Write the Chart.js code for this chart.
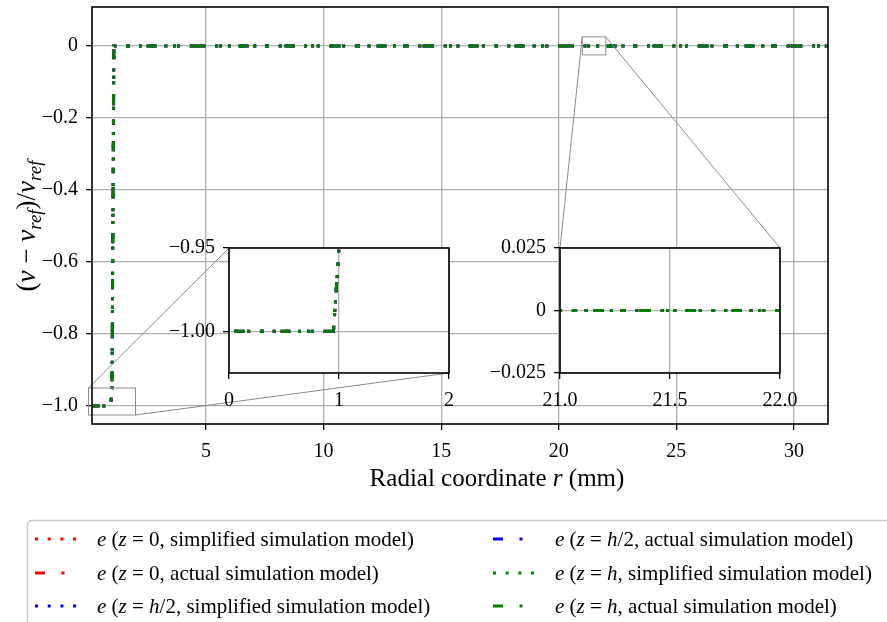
<!DOCTYPE html>
<html>
<head>
<meta charset="utf-8">
<script src="https://cdn.jsdelivr.net/npm/chart.js@4.4.1/dist/chart.umd.min.js"></script>
<style>
  body { margin: 0; background: #fff; }
  #wrap { position: relative; width: 887px; height: 622px; overflow: hidden; }
  #wrap canvas { position: absolute; }
</style>
</head>
<body>
<div id="wrap">
  <canvas id="mainChart" width="887" height="622" style="left:0px;top:0px"></canvas>
  <canvas id="zoomStep" width="330" height="179" style="left:139px;top:234px"></canvas>
  <canvas id="zoomFlat" width="330" height="179" style="left:470px;top:234px"></canvas>
</div>
<script>
// radial coordinate r (mm) and normalised error e for each case
const radius = [0.05, 0.95, 1.0, 1.08, 31.5];
const eZ0Simplified = [-1, -1, -0.95, 0, 0];
const eZ0Actual = [-1, -1, -0.95, 0, 0];
const eHalfSimplified = [-1, -1, -0.95, 0, 0];
const eHalfActual = [-1, -1, -0.95, 0, 0];
const eTopSimplified = [-1, -1, -0.95, 0, 0];
const eTopActual = [-1, -1, -0.95, 0, 0];

const seriesValues = [eZ0Simplified, eZ0Actual, eHalfSimplified, eHalfActual, eTopSimplified, eTopActual];
// *...* marks italic parts
const seriesLabels = [
  '*e* (*z* = 0, simplified simulation model)',
  '*e* (*z* = 0, actual simulation model)',
  '*e* (*z* = *h*/2, simplified simulation model)',
  '*e* (*z* = *h*/2, actual simulation model)',
  '*e* (*z* = *h*, simplified simulation model)',
  '*e* (*z* = *h*, actual simulation model)'
];

// main axes ticks
const xTicks = [5, 10, 15, 20, 25, 30];
const xTickLabels = ['5', '10', '15', '20', '25', '30'];
const yTicks = [-1.0, -0.8, -0.6, -0.4, -0.2, 0];
const yTickLabels = ['\u22121.0', '\u22120.8', '\u22120.6', '\u22120.4', '\u22120.2', '0'];

// zoom near the step
const stepXTicks = [0, 1, 2];
const stepXLabels = ['0', '1', '2'];
const stepYTicks = [-1.0, -0.95];
const stepYLabels = ['\u22121.00', '\u22120.95'];

// zoom on the flat part
const flatXTicks = [21.0, 21.5, 22.0];
const flatXLabels = ['21.0', '21.5', '22.0'];
const flatYTicks = [-0.025, 0, 0.025];
const flatYLabels = ['\u22120.025', '0', '0.025'];

const seriesColors = ['#ff0000', '#ff0000', '#0000ff', '#0000ff', '#008000', '#008000'];
const dotted = [3, 9.7];
const dashDot = [10, 16.5, 3, 16.5];
const seriesDash = [dotted, dashDot, dotted, dashDot, dotted, dashDot];

const FONT = '"Liberation Serif", "Times New Roman", serif';
Chart.defaults.font.family = FONT;
Chart.defaults.color = '#000';

function makeDatasets() {
  return seriesValues.map((vals, i) => ({
    label: seriesLabels[i],
    data: radius.map((r, k) => ({ x: r, y: vals[k] })),
    showLine: true,
    borderColor: seriesColors[i],
    borderWidth: 3,
    borderDash: seriesDash[i],
    borderCapStyle: 'butt',
    pointRadius: 0,
    fill: false,
    order: seriesValues.length - i
  }));
}

function fixedScale(min, max, ticks, labels, size, isX) {
  return {
    type: 'linear',
    min: min,
    max: max,
    afterBuildTicks: s => { s.ticks = ticks.map(v => ({ value: v })); },
    afterFit: s => {
      if (isX) s.height = size; else s.width = size;
      s.paddingLeft = s.paddingRight = s.paddingTop = s.paddingBottom = 0;
    },
    ticks: {
      callback: (v, i) => labels[i],
      autoSkip: false,
      maxRotation: 0,
      padding: isX ? 10 : 8,
      color: '#000',
      font: { size: 20 }
    },
    grid: { color: '#b0b0b0', lineWidth: 1.3, tickColor: '#000', tickLength: 6, tickWidth: 1.3 },
    border: { display: false }
  };
}

function drawSpines(ctx, a) {
  ctx.save();
  ctx.strokeStyle = '#000';
  ctx.lineWidth = 1.6;
  ctx.strokeRect(a.left, a.top, a.right - a.left, a.bottom - a.top);
  ctx.restore();
}

// draw a list of [text, style] runs; style: n normal, i italic, s italic subscript
function drawRuns(ctx, runs, x, y, size, align) {
  const fontOf = st => st === 'n' ? `${size}px ${FONT}` :
    st === 'i' ? `italic ${size}px ${FONT}` : `italic ${Math.round(size * 0.7)}px ${FONT}`;
  let total = 0;
  runs.forEach(([t, st]) => { ctx.font = fontOf(st); total += ctx.measureText(t).width; });
  let cx = align === 'center' ? x - total / 2 : x;
  ctx.textAlign = 'left';
  ctx.textBaseline = 'alphabetic';
  runs.forEach(([t, st]) => {
    ctx.font = fontOf(st);
    ctx.fillText(t, cx, y + (st === 's' ? size * 0.24 : 0));
    cx += ctx.measureText(t).width;
  });
}

function markupRuns(text) {
  return text.split('*').map((t, i) => [t, i % 2 ? 'i' : 'n']).filter(r => r[0]);
}

const insetFace = {
  id: 'insetFace',
  beforeDraw(chart) {
    const a = chart.chartArea, ctx = chart.ctx;
    ctx.save();
    ctx.fillStyle = '#fff';
    ctx.fillRect(a.left, a.top, a.right - a.left, a.bottom - a.top);
    ctx.restore();
  },
  afterDraw(chart) { drawSpines(chart.ctx, chart.chartArea); }
};

function makeInset(id, xr, yr, xt, xl, yt, yl) {
  return new Chart(document.getElementById(id), {
    type: 'scatter',
    data: { datasets: makeDatasets() },
    options: {
      responsive: false,
      animation: false,
      events: [],
      layout: { padding: { left: 0, top: 14, right: 20, bottom: 0 } },
      plugins: { legend: { display: false }, tooltip: { enabled: false } },
      scales: {
        x: fixedScale(xr[0], xr[1], xt, xl, 40, true),
        y: fixedScale(yr[0], yr[1], yt, yl, 90, false)
      }
    },
    plugins: [insetFace]
  });
}

const stepInset = makeInset('zoomStep', [0, 2], [-1.025, -0.95], stepXTicks, stepXLabels, stepYTicks, stepYLabels);
const flatInset = makeInset('zoomFlat', [21, 22], [-0.025, 0.025], flatXTicks, flatXLabels, flatYTicks, flatYLabels);

function insetBox(inset) {
  const a = inset.chartArea, c = inset.canvas;
  return { left: a.left + c.offsetLeft, top: a.top + c.offsetTop, right: a.right + c.offsetLeft, bottom: a.bottom + c.offsetTop };
}

const mainDecor = {
  id: 'mainDecor',
  afterDatasetsDraw(chart) {
    const ctx = chart.ctx, xs = chart.scales.x, ys = chart.scales.y;
    ctx.save();
    ctx.strokeStyle = '#8c8c8c';
    ctx.lineWidth = 1;
    const link = (inset, corners) => {
      const o = inset.options.scales;
      const r = {
        left: xs.getPixelForValue(o.x.min), right: xs.getPixelForValue(o.x.max),
        top: ys.getPixelForValue(o.y.max), bottom: ys.getPixelForValue(o.y.min)
      };
      ctx.strokeRect(r.left, r.top, r.right - r.left, r.bottom - r.top);
      const b = insetBox(inset);
      corners.forEach(([h, v]) => {
        ctx.beginPath();
        ctx.moveTo(b[h], b[v]);
        ctx.lineTo(r[h], r[v]);
        ctx.stroke();
      });
    };
    link(stepInset, [['left', 'top'], ['right', 'bottom']]);
    link(flatInset, [['left', 'top'], ['right', 'top']]);
    ctx.restore();
  },
  afterDraw(chart) {
    const ctx = chart.ctx;
    drawSpines(ctx, chart.chartArea);
    ctx.save();
    ctx.fillStyle = '#000';
    // axis titles
    drawRuns(ctx, [['Radial coordinate ', 'n'], ['r', 'i'], [' (mm)', 'n']], 497, 486, 25, 'center');
    ctx.translate(35, 226);
    ctx.rotate(-Math.PI / 2);
    drawRuns(ctx, [['(', 'n'], ['\u03bd', 'i'], [' \u2212 ', 'n'], ['\u03bd', 'i'], ['ref', 's'],
      [')', 'n'], ['/', 'n'], ['\u03bd', 'i'], ['ref', 's']], 0, 0, 27, 'center');
    ctx.restore();

    // legend, two columns filled top to bottom
    ctx.save();
    ctx.fillStyle = '#fff';
    ctx.strokeStyle = '#cccccc';
    ctx.lineWidth = 1.5;
    ctx.beginPath();
    ctx.roundRect(27.5, 520.5, 900, 150, 4);
    ctx.fill();
    ctx.stroke();
    const colX = [35, 493], textX = [97, 555], rowY = [539, 573, 606];
    chart.data.datasets.forEach((ds, i) => {
      const c = Math.floor(i / 3), r = i % 3;
      ctx.strokeStyle = ds.borderColor;
      ctx.lineWidth = 3;
      ctx.setLineDash(ds.borderDash);
      ctx.beginPath();
      ctx.moveTo(colX[c], rowY[r]);
      ctx.lineTo(colX[c] + 43, rowY[r]);
      ctx.stroke();
      ctx.setLineDash([]);
      ctx.fillStyle = '#000';
      drawRuns(ctx, markupRuns(ds.label), textX[c], rowY[r] + 7, 21, 'left');
    });
    ctx.restore();
  }
};

new Chart(document.getElementById('mainChart'), {
  type: 'scatter',
  data: { datasets: makeDatasets() },
  options: {
    responsive: false,
    animation: false,
    events: [],
    layout: { padding: { left: 0, top: 7, right: 59, bottom: 0 } },
    plugins: { legend: { display: false }, tooltip: { enabled: false } },
    scales: {
      x: fixedScale(0.15, 31.45, xTicks, xTickLabels, 198, true),
      y: fixedScale(-1.05, 0.108, yTicks, yTickLabels, 92, false)
    }
  },
  plugins: [mainDecor]
});
</script>
</body>
</html>
